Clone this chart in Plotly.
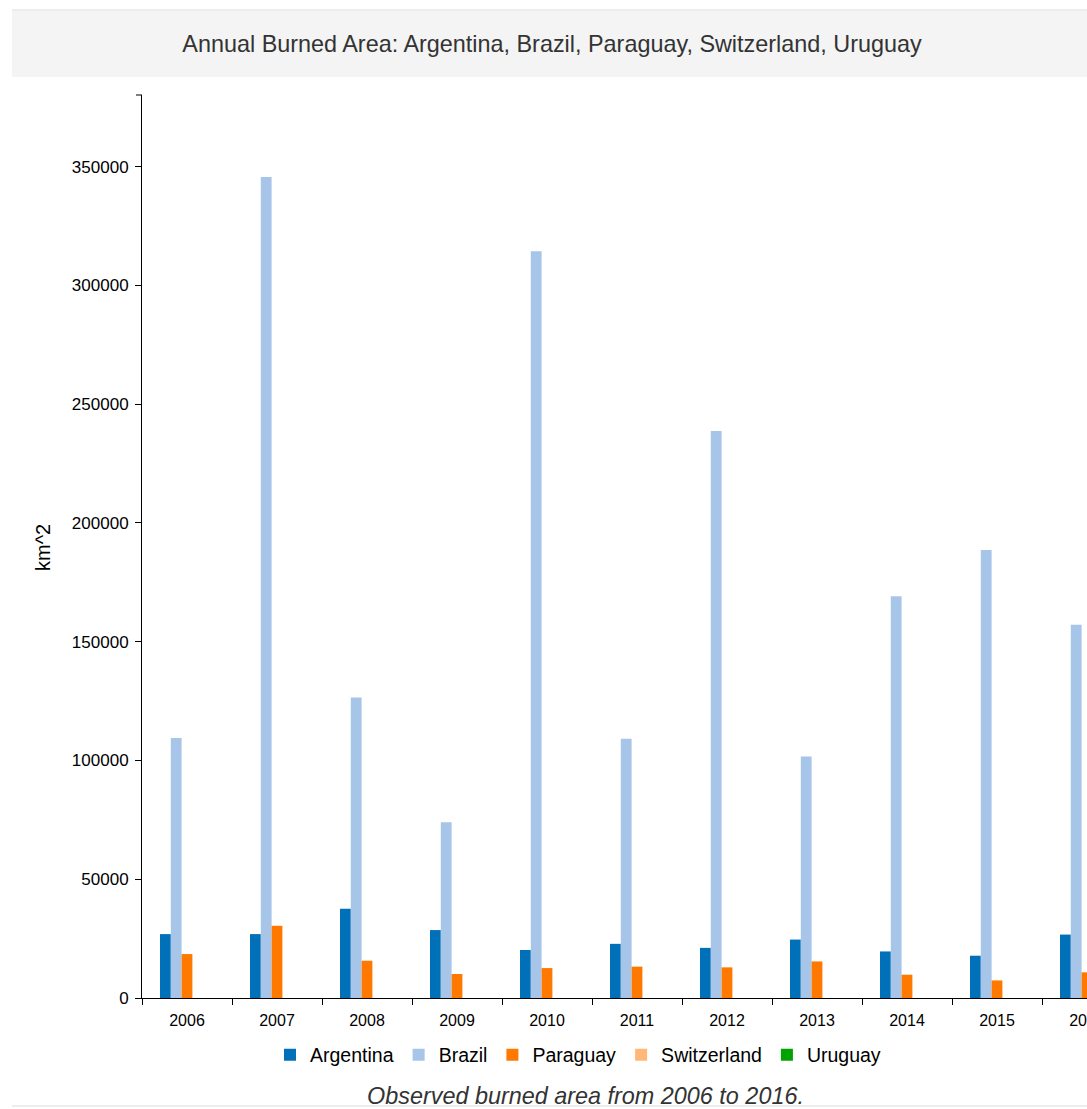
import plotly.graph_objects as go

# ---- data ----
years = ["2006", "2007", "2008", "2009", "2010", "2011", "2012", "2013", "2014", "2015", "2016"]
argentina = [26900, 26900, 37600, 28600, 20200, 22800, 21100, 24600, 19600, 17800, 26700]
brazil = [109500, 345600, 126500, 74000, 314400, 109100, 238700, 101700, 169100, 188600, 157100]
paraguay = [18500, 30400, 15700, 10100, 12600, 13200, 12900, 15400, 9800, 7400, 10800]
switzerland = [0, 0, 0, 0, 0, 0, 0, 0, 0, 0, 0]
uruguay = [0, 0, 0, 0, 0, 0, 0, 0, 0, 0, 0]

series_names = ["Argentina", "Brazil", "Paraguay", "Switzerland", "Uruguay"]
series_values = [argentina, brazil, paraguay, switzerland, uruguay]
series_colors = ["#0071b9", "#a7c4e9", "#ff7900", "#ffb877", "#00a400"]

FONT = "Liberation Sans, Arial, Helvetica, sans-serif"
W, H = 1087, 1109
L, R, T, B = 142, 0, 95, 111
PW = W - L - R
PH = H - T - B


def px_x(p):
    return (p - L) / PW


def px_y(p):
    return (H - B - p) / PH


fig = go.Figure()
for name, vals, color in zip(series_names, series_values, series_colors):
    fig.add_bar(x=years, y=vals, name=name, marker_color=color, marker_line_width=0)

ymax = max(brazil) * 1.1

fig.update_layout(
    width=W,
    height=H,
    margin=dict(l=L, r=R, t=T, b=B, pad=0, autoexpand=False),
    paper_bgcolor="white",
    plot_bgcolor="white",
    barmode="group",
    bargap=0.4,
    bargroupgap=0,
    font=dict(family=FONT, color="#000"),
    title=dict(
        text="Annual Burned Area: Argentina, Brazil, Paraguay, Switzerland, Uruguay",
        xref="container", yref="container",
        x=552 / W, y=1 - 44 / H, xanchor="center", yanchor="middle",
        font=dict(family=FONT, size=23.4, color="#333"),
    ),
    xaxis=dict(
        type="category",
        range=[-0.5, 10.0],
        automargin=False,
        tickson="boundaries",
        ticks="outside", ticklen=6, tickcolor="black", tickwidth=1,
        ticklabelstandoff=8,
        showline=True, linecolor="black", linewidth=1,
        showgrid=False, zeroline=False,
        tickfont=dict(family=FONT, size=16, color="black"),
        fixedrange=True,
    ),
    yaxis=dict(
        range=[0, ymax],
        automargin=False,
        tick0=0, dtick=50000, tickformat="d",
        ticks="outside", ticklen=6, tickcolor="black", tickwidth=1,
        ticklabelstandoff=3,
        showline=True, linecolor="black", linewidth=1,
        showgrid=False, zeroline=False,
        tickfont=dict(family=FONT, size=17, color="black"),
        fixedrange=True,
    ),
    legend=dict(
        orientation="h",
        x=px_x(578), xanchor="center",
        y=px_y(1055), yanchor="middle",
        font=dict(family=FONT, size=19.5, color="black"),
        bgcolor="rgba(0,0,0,0)",
        traceorder="normal",
    ),
    showlegend=True,
)

fig.add_annotation(
    text="km^2", textangle=-90,
    xref="paper", yref="paper", x=px_x(43), y=px_y(548),
    xanchor="center", yanchor="middle", showarrow=False,
    font=dict(family=FONT, size=20, color="black"),
)
fig.add_annotation(
    text="<i>Observed burned area from 2006 to 2016.</i>",
    xref="paper", yref="paper", x=px_x(585), y=px_y(1096),
    xanchor="center", yanchor="middle", showarrow=False,
    font=dict(family=FONT, size=23.4, color="#333"),
)

# title box background
fig.add_shape(type="rect", xref="paper", yref="paper",
              x0=px_x(12), x1=px_x(1100), y0=px_y(77), y1=px_y(10),
              fillcolor="#f4f4f4", line_width=0, layer="below")
fig.add_shape(type="line", xref="paper", yref="paper",
              x0=px_x(12), x1=px_x(1100), y0=px_y(10), y1=px_y(10),
              line=dict(color="#e8e8e8", width=1.5), layer="below")
# caption bottom rule
fig.add_shape(type="line", xref="paper", yref="paper",
              x0=px_x(12), x1=px_x(1100), y0=px_y(1106), y1=px_y(1106),
              line=dict(color="#ececec", width=2), layer="below")
# outer tick at the top of the y axis
fig.add_shape(type="line", xref="paper", yref="paper",
              x0=px_x(L - 6), x1=0, y0=1, y1=1,
              line=dict(color="black", width=1), layer="above")

fig.write_html(
    "out.html",
    config={"displayModeBar": False},
    post_script="document.body.style.margin='0';document.body.style.overflow='hidden';document.documentElement.style.overflow='hidden';",
)
